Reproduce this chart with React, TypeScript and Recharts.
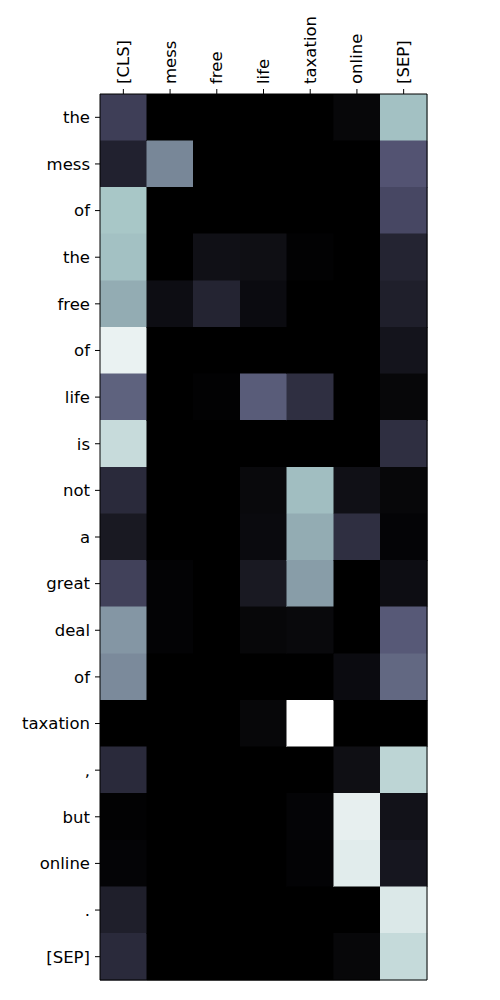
import { BarChart, Bar, XAxis, YAxis, Cell } from 'recharts';

// query tokens (rows) and key tokens (columns)
const ROW_TOKENS = ['the', 'mess', 'of', 'the', 'free', 'of', 'life', 'is', 'not', 'a', 'great', 'deal', 'of', 'taxation', ',', 'but', 'online', '.', '[SEP]'];
const COL_TOKENS = ['[CLS]', 'mess', 'free', 'life', 'taxation', 'online', '[SEP]'];

// attention weights per column, one value per row (0..1 on the colour scale)
const W_CLS = [0.28, 0.15, 0.75, 0.73, 0.66, 0.94, 0.42, 0.84, 0.19, 0.11, 0.29, 0.59, 0.55, 0.0, 0.19, 0.01, 0.02, 0.14, 0.19];
const W_MESS = [0, 0.54, 0, 0, 0.06, 0, 0, 0, 0, 0, 0.015, 0.015, 0, 0, 0, 0, 0, 0, 0];
const W_FREE = [0, 0, 0, 0.07, 0.16, 0, 0.01, 0, 0, 0, 0, 0, 0, 0, 0, 0, 0, 0, 0];
const W_LIFE = [0, 0, 0, 0.065, 0.05, 0, 0.4, 0, 0.04, 0.045, 0.11, 0.03, 0, 0.03, 0, 0, 0, 0, 0];
const W_TAX = [0, 0, 0, 0.01, 0, 0, 0.21, 0, 0.72, 0.66, 0.61, 0.04, 0, 1.0, 0, 0.02, 0.015, 0, 0];
const W_ONLINE = [0.03, 0, 0, 0, 0, 0, 0, 0, 0.07, 0.21, 0, 0, 0.05, 0, 0.065, 0.93, 0.914, 0, 0.03];
const W_SEP = [0.73, 0.37, 0.32, 0.16, 0.14, 0.09, 0.03, 0.21, 0.03, 0.02, 0.06, 0.39, 0.44, 0, 0.81, 0.08, 0.1, 0.897, 0.834];

const COLUMNS = [W_CLS, W_MESS, W_FREE, W_LIFE, W_TAX, W_ONLINE, W_SEP];
const COL_TICKS = COL_TOKENS.map((_, i) => i + 0.5);

// matplotlib "bone" colormap
function interp(stops: number[][], v: number) {
  for (let i = 1; i < stops.length; i++) {
    if (v <= stops[i][0]) {
      const [x0, y0] = stops[i - 1];
      const [x1, y1] = stops[i];
      return y0 + ((v - x0) / (x1 - x0)) * (y1 - y0);
    }
  }
  return stops[stops.length - 1][1];
}
const R_STOPS = [[0, 0], [0.746032, 0.652778], [1, 1]];
const G_STOPS = [[0, 0], [0.365079, 0.319444], [0.746032, 0.777778], [1, 1]];
const B_STOPS = [[0, 0], [0.365079, 0.444444], [1, 1]];
function bone(v: number) {
  const c = (s: number[][]) => Math.round(interp(s, Math.max(0, Math.min(1, v))) * 255);
  return `rgb(${c(R_STOPS)},${c(G_STOPS)},${c(B_STOPS)})`;
}

const data = ROW_TOKENS.map((_, i) => {
  const row: Record<string, number> = { idx: i };
  COLUMNS.forEach((_, j) => (row[`c${j}`] = 1));
  return row;
});

const FONT = 'DejaVu Sans, sans-serif';
const FONT_SIZE = 16.5;

function TopTick(props: any) {
  const { x, y, payload } = props;
  const label = COL_TOKENS[Math.round(payload.value - 0.5)];
  const ty = y - 5;
  return (
    <text
      x={x}
      y={ty}
      transform={`rotate(-90, ${x}, ${ty})`}
      textAnchor="start"
      dominantBaseline="central"
      fontSize={FONT_SIZE}
      fontFamily={FONT}
      fill="#000"
    >
      {label}
    </text>
  );
}

export default function App() {
  return (
    <div style={{ position: 'absolute', left: 0, top: 0, background: '#fff' }}>
      <BarChart
        width={500}
        height={1000}
        data={data}
        layout="vertical"
        barCategoryGap={0}
        margin={{ top: 0, right: 0, bottom: 0, left: 0 }}
      >
        <XAxis
          xAxisId="top"
          orientation="top"
          type="number"
          domain={[0, 7]}
          ticks={COL_TICKS}
          height={94}
          tick={<TopTick />}
          tickSize={5}
          tickMargin={0}
          stroke="#000"
          interval={0}
        />
        <XAxis
          xAxisId="bottom"
          orientation="bottom"
          type="number"
          domain={[0, 7]}
          ticks={COL_TICKS}
          height={20}
          tick={false}
          tickSize={5}
          stroke="#000"
          interval={0}
        />
        <YAxis
          yAxisId="left"
          type="category"
          dataKey="idx"
          width={100}
          tickFormatter={(i: number) => ROW_TOKENS[i]}
          tick={{ fontSize: FONT_SIZE, fontFamily: FONT, fill: '#000' }}
          tickSize={5}
          tickMargin={5}
          stroke="#000"
          interval={0}
        />
        <YAxis
          yAxisId="right"
          orientation="right"
          type="category"
          dataKey="idx"
          width={73}
          tick={false}
          tickLine={false}
          stroke="#000"
        />
        {COLUMNS.map((col, j) => (
          <Bar
            key={j}
            dataKey={`c${j}`}
            stackId="a"
            xAxisId="top"
            yAxisId="left"
            isAnimationActive={false}
            shapeRendering="crispEdges"
          >
            {col.map((v, i) => (
              <Cell key={i} fill={bone(v)} stroke={bone(v)} strokeWidth={0.5} />
            ))}
          </Bar>
        ))}
      </BarChart>
    </div>
  );
}
